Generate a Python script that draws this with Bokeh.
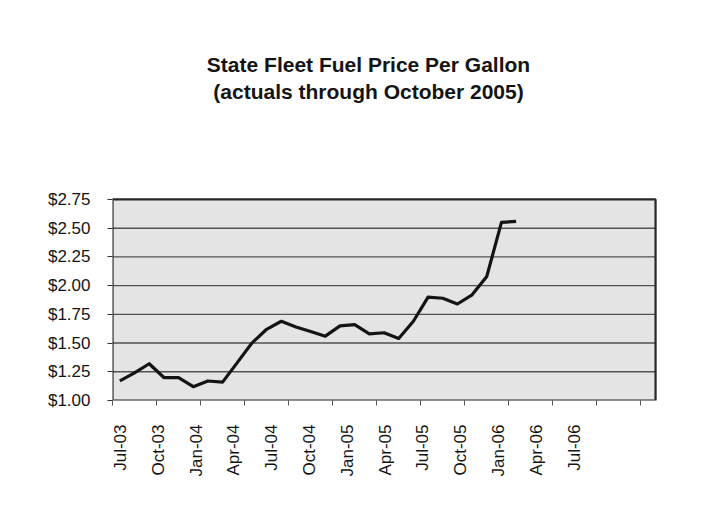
import math

from bokeh.embed import file_html
from bokeh.models import (BoxAnnotation, FixedTicker, Label, LinearAxis,
                          NumeralTickFormatter, Range1d, Span)
from bokeh.plotting import figure
from bokeh.resources import INLINE

# Monthly fleet fuel price, July 2003 through October 2005
months = [
    "Jul-03", "Aug-03", "Sep-03", "Oct-03", "Nov-03", "Dec-03",
    "Jan-04", "Feb-04", "Mar-04", "Apr-04", "May-04", "Jun-04",
    "Jul-04", "Aug-04", "Sep-04", "Oct-04", "Nov-04", "Dec-04",
    "Jan-05", "Feb-05", "Mar-05", "Apr-05", "May-05", "Jun-05",
    "Jul-05", "Aug-05", "Sep-05", "Oct-05",
]
price = [
    1.17, 1.24, 1.32, 1.20, 1.20, 1.12,
    1.17, 1.16, 1.33, 1.50, 1.62, 1.69,
    1.64, 1.60, 1.56, 1.65, 1.66, 1.58,
    1.59, 1.54, 1.69, 1.90, 1.89, 1.84,
    1.92, 2.08, 2.55, 2.56,
]

# Quarterly category labels along the time axis (Jul-03 .. Jul-06)
quarter_labels = [
    "Jul-03", "Oct-03", "Jan-04", "Apr-04", "Jul-04", "Oct-04", "Jan-05",
    "Apr-05", "Jul-05", "Oct-05", "Jan-06", "Apr-06", "Jul-06",
]
price_ticks = [1.00, 1.25, 1.50, 1.75, 2.00, 2.25, 2.50, 2.75]

title_lines = ["State Fleet Fuel Price Per Gallon",
               "(actuals through October 2005)"]

n_axis_months = 3 * (len(quarter_labels) - 1) + 1   # Jul-03 .. Jul-06
month_index = list(range(len(months)))
area_left, area_right = -0.5, n_axis_months - 0.5

FONT = "Liberation Sans"
INK = "#141414"

# The frame reaches up to the title (and a hair past the right border);
# the shaded plot area covers $1.00-$2.75.
p = figure(
    width=711, height=506,
    output_backend="svg", toolbar_location=None,
    x_range=Range1d(area_left, area_right + 0.2),
    y_range=Range1d(price_ticks[0], 4.308),
    min_border_left=112, min_border_right=53,
    min_border_top=20, min_border_bottom=106,
    background_fill_color="white",
    border_fill_color="white",
)
p.outline_line_color = None
p.xgrid.grid_line_color = None
p.ygrid.grid_line_color = None

# shaded plot area
p.add_layout(BoxAnnotation(
    left=area_left, right=area_right,
    bottom=price_ticks[0], top=price_ticks[-1],
    fill_color="#e4e4e4", fill_alpha=1.0,
    line_color=None, level="underlay",
))
# horizontal gridlines
for t in price_ticks[1:-1]:
    p.add_layout(BoxAnnotation(
        left=area_left, right=area_right, bottom=t, top=t,
        fill_alpha=0.0, line_color="#525252", line_alpha=1.0,
        line_width=1.4, level="underlay",
    ))
# plot-area border
p.add_layout(BoxAnnotation(
    left=area_left, right=area_right,
    bottom=price_ticks[0], top=price_ticks[-1],
    fill_alpha=0.0, line_color="#262626", line_alpha=1.0, line_width=2.2,
    level="underlay",
))

# price line
p.line(month_index, price, line_width=3.2, line_color=INK, line_join="round")

# y axis: dollar labels
p.yaxis.ticker = FixedTicker(ticks=price_ticks)
p.yaxis.formatter = NumeralTickFormatter(format="$0.00")
p.yaxis.major_label_text_font = FONT
p.yaxis.major_label_text_font_size = "17px"
p.yaxis.major_label_text_color = INK
p.yaxis.major_label_standoff = 17
p.yaxis.major_tick_out = 5
p.yaxis.major_tick_in = 0
p.yaxis.major_tick_line_color = "#333333"
p.yaxis.minor_tick_line_color = None
p.yaxis.axis_line_color = None

# x axis: tick marks on quarter boundaries of the monthly categories
p.xaxis.ticker = FixedTicker(ticks=[3 * k - 0.5 for k in range(len(quarter_labels))])
p.xaxis.major_label_text_font_size = "0px"
p.xaxis.major_label_text_color = None
p.xaxis.major_label_standoff = 0
p.xaxis.major_tick_out = 5
p.xaxis.major_tick_in = 0
p.xaxis.major_tick_line_color = "#555555"
p.xaxis.minor_tick_line_color = None
p.xaxis.axis_line_color = None

# quarter labels, set vertically under the axis
p.extra_x_ranges = {"quarters": Range1d(-0.636, 42.53 + 0.16)}
label_axis = LinearAxis(
    x_range_name="quarters",
    ticker=FixedTicker(ticks=[3 * k for k in range(len(quarter_labels))]),
    major_label_overrides={3 * k: s for k, s in enumerate(quarter_labels)},
    major_label_orientation=math.pi / 2,
    major_label_text_font=FONT,
    major_label_text_font_size="17px",
    major_label_text_color=INK,
    major_label_standoff=13,
    major_tick_line_color=None,
    minor_tick_line_color=None,
    axis_line_color=None,
)
p.add_layout(label_axis, "below")

# two-line chart title
for text, y in zip(title_lines, [336, 309]):
    p.add_layout(Label(
        x=256, y=y, x_units="screen", y_units="screen", text=text,
        text_align="center", text_baseline="alphabetic",
        text_font=FONT, text_font_size="21px", text_font_style="bold",
        text_color=INK,
    ))

open("out.html", "w").write(file_html(p, INLINE))
